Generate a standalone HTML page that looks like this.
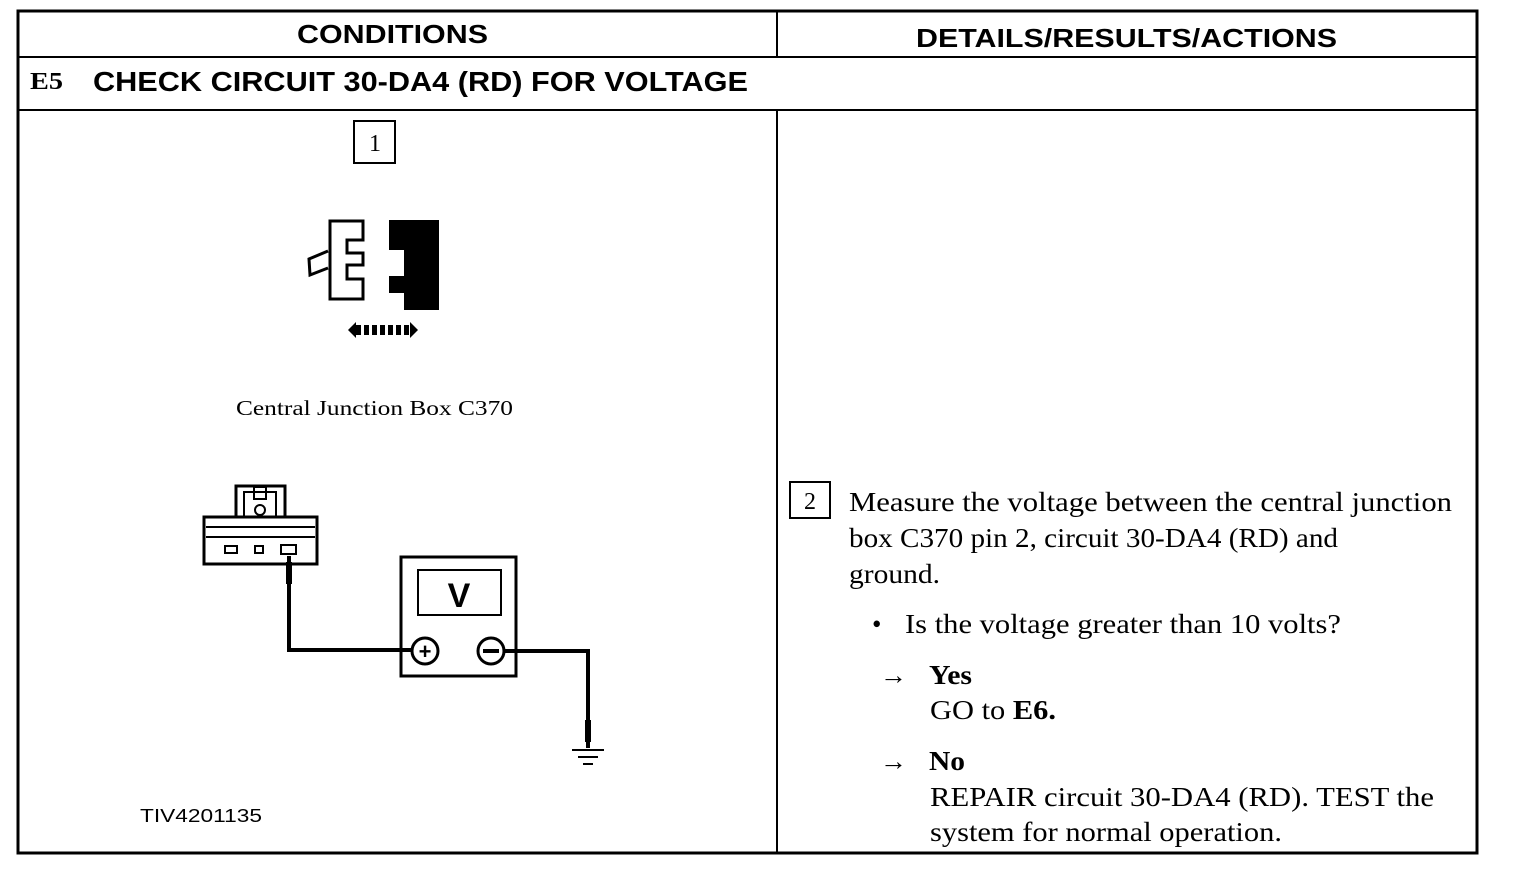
<!DOCTYPE html>
<html><head><style>
body{margin:0;background:#fff;}
svg{display:block}
.s{font-family:"Liberation Sans",sans-serif}
.r{font-family:"Liberation Serif",serif}
</style></head><body>
<svg width="1520" height="882" viewBox="0 0 1520 882" xmlns="http://www.w3.org/2000/svg">
<g fill="none" stroke="#000">
<rect x="18" y="11" width="1459" height="842" stroke-width="3"/>
<line x1="18" y1="57" x2="1477" y2="57" stroke-width="2"/>
<line x1="18" y1="110" x2="1477" y2="110" stroke-width="2"/>
<line x1="777" y1="11" x2="777" y2="57" stroke-width="2"/>
<line x1="777" y1="110" x2="777" y2="853" stroke-width="2"/>
<rect x="354" y="121" width="41" height="42" stroke-width="2"/>
<rect x="790" y="482" width="40" height="36" stroke-width="2"/>
<path d="M330,221 H363 V240 H347 V253 H363 V265 H347 V279 H363 V299 H330 Z" stroke-width="3" fill="#fff"/>
<path d="M328,251 L309,259 L310,275 L328,268" stroke-width="3"/>
</g>
<path d="M389,220 H439 V310 H404 V293 H389 V276 H404 V262 H389 V250 H389 Z" fill="#000"/>
<rect x="389" y="250" width="15" height="12" fill="#fff"/>
<path d="M348,330 L356,322 V338 Z M418,330 L410,322 V338 Z" fill="#000"/>
<g fill="#000"><rect x="356" y="325" width="5" height="10"/><rect x="364" y="325" width="5" height="10"/><rect x="372" y="325" width="5" height="10"/><rect x="380" y="325" width="5" height="10"/><rect x="388" y="325" width="5" height="10"/><rect x="396" y="325" width="5" height="10"/><rect x="404" y="325" width="5" height="10"/></g>
<text x="236" y="415" class="r" font-size="21" textLength="277" lengthAdjust="spacingAndGlyphs">Central Junction Box C370</text>
<g fill="none" stroke="#000" stroke-width="3">
<rect x="204" y="517" width="113" height="47"/>
<line x1="206" y1="527" x2="315" y2="527" stroke-width="2"/>
<line x1="206" y1="537" x2="315" y2="537" stroke-width="2"/>
<path d="M236,517 V486 H285 V517" />
<path d="M244,517 V492 H276 V517" stroke-width="2"/>
<rect x="254" y="487" width="12" height="12" stroke-width="2"/>
<circle cx="260" cy="510" r="5" stroke-width="2"/>
<rect x="225" y="546" width="12" height="7" stroke-width="2"/>
<rect x="255" y="546" width="8" height="7" stroke-width="2"/>
<rect x="281" y="545" width="15" height="9" stroke-width="2"/>
<path d="M289,556 V650 H412" stroke-width="4"/>
<rect x="401" y="557" width="115" height="119"/>
<rect x="418" y="570" width="83" height="45" stroke-width="2"/>
<circle cx="425" cy="651" r="13"/>
<circle cx="491" cy="651" r="13"/>
<path d="M504,651 H588 V748" stroke-width="4"/>
<line x1="572" y1="750" x2="604" y2="750" stroke-width="2"/>
<line x1="578" y1="757" x2="598" y2="757" stroke-width="2"/>
<line x1="583" y1="764" x2="593" y2="764" stroke-width="2"/>
</g>
<rect x="286" y="562" width="6" height="22" fill="#000"/>
<rect x="585" y="720" width="6" height="22" fill="#000"/>
<text x="459" y="607" text-anchor="middle" class="s" font-size="34" font-weight="bold">V</text>
<text x="425" y="659" text-anchor="middle" class="s" font-size="22" font-weight="bold">+</text>
<rect x="483" y="649" width="16" height="4" fill="#000"/>
<text x="140" y="822" class="s" font-size="18" textLength="122" lengthAdjust="spacingAndGlyphs">TIV4201135</text>
<text x="297" y="43" class="s" font-size="26" font-weight="bold" textLength="191" lengthAdjust="spacingAndGlyphs">CONDITIONS</text>
<text x="916" y="47" class="s" font-size="26" font-weight="bold" textLength="421" lengthAdjust="spacingAndGlyphs">DETAILS/RESULTS/ACTIONS</text>
<text x="30" y="89" class="r" font-size="24" font-weight="bold" textLength="33" lengthAdjust="spacingAndGlyphs">E5</text>
<text x="93" y="91" class="s" font-size="28" font-weight="bold" textLength="655" lengthAdjust="spacingAndGlyphs">CHECK CIRCUIT 30-DA4 (RD) FOR VOLTAGE</text>
<text x="375" y="151" text-anchor="middle" class="r" font-size="24">1</text>
<text x="810" y="509" text-anchor="middle" class="r" font-size="24">2</text>
<g class="r" font-size="27">
<text x="849" y="511" textLength="603" lengthAdjust="spacingAndGlyphs">Measure the voltage between the central junction</text>
<text x="849" y="547" textLength="489" lengthAdjust="spacingAndGlyphs">box C370 pin 2, circuit 30-DA4 (RD) and</text>
<text x="849" y="583" textLength="91" lengthAdjust="spacingAndGlyphs">ground.</text>
<text x="872" y="633">•</text>
<text x="905" y="633" textLength="436" lengthAdjust="spacingAndGlyphs">Is the voltage greater than 10 volts?</text>
<text x="880" y="684">→</text>
<text x="929" y="684" font-weight="bold" textLength="43" lengthAdjust="spacingAndGlyphs">Yes</text>
<text x="930" y="719" textLength="126" lengthAdjust="spacingAndGlyphs">GO to <tspan font-weight="bold">E6.</tspan></text>
<text x="880" y="770">→</text>
<text x="929" y="770" font-weight="bold" textLength="36" lengthAdjust="spacingAndGlyphs">No</text>
<text x="930" y="806" textLength="504" lengthAdjust="spacingAndGlyphs">REPAIR circuit 30-DA4 (RD). TEST the</text>
<text x="930" y="841" textLength="352" lengthAdjust="spacingAndGlyphs">system for normal operation.</text>
</g>
</svg>
</body></html>
